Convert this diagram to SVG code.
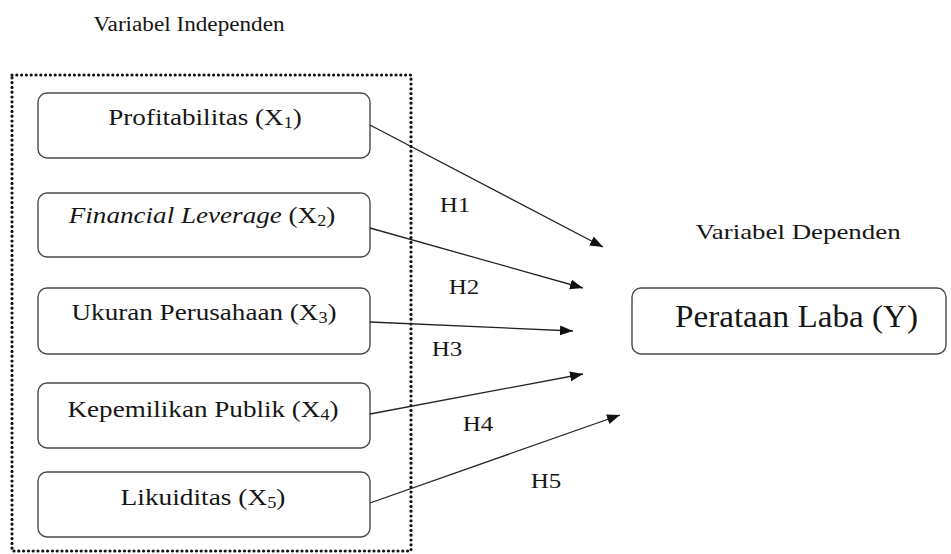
<svg xmlns="http://www.w3.org/2000/svg" width="951" height="554" viewBox="0 0 951 554">
<style>
text{font-family:"Liberation Serif","Times New Roman",serif;fill:#161616;text-anchor:middle}
.box{fill:#fff;stroke:#4a4a4a;stroke-width:1.4}
.lbl{font-size:24px}
.sub{font-size:16px}
.h{font-size:20px}
.conn{stroke:#222;stroke-width:1.3;fill:none;marker-end:url(#ah)}
.dots{fill:none;stroke:#111;stroke-width:3.2;stroke-linecap:round;stroke-dasharray:0 4.8}
</style>
<defs>
<marker id="ah" markerUnits="userSpaceOnUse" markerWidth="14" markerHeight="12" refX="13" refY="5" orient="auto">
<path d="M0,0 L13,5 L0,10 Z" fill="#111"/>
</marker>
</defs>
<rect width="951" height="554" fill="#fff"/>
<text transform="translate(189,31) scale(1.16,1)" font-size="20">Variabel Independen</text>
<text transform="translate(798,239) scale(1.28,1)" font-size="21">Variabel Dependen</text>
<g id="group-independen">
<path class="dots" d="M12,75 H411 V551 H12 Z"/>
</g>
<g id="x1">
<rect class="box" x="38" y="93" width="332" height="65" rx="9"/>
<text class="lbl" transform="translate(205,125) scale(1.13,1)">Profitabilitas (X<tspan class="sub" dy="3">1</tspan><tspan dy="-3">)</tspan></text>
</g>
<g id="x2">
<rect class="box" x="38" y="193" width="332" height="64" rx="9"/>
<text class="lbl" transform="translate(202,223) scale(1.13,1)"><tspan font-style="italic">Financial Leverage</tspan> (X<tspan class="sub" dy="3">2</tspan><tspan dy="-3">)</tspan></text>
</g>
<g id="x3">
<rect class="box" x="38" y="288" width="332" height="66" rx="9"/>
<text class="lbl" transform="translate(204,320) scale(1.13,1)">Ukuran Perusahaan (X<tspan class="sub" dy="3">3</tspan><tspan dy="-3">)</tspan></text>
</g>
<g id="x4">
<rect class="box" x="38" y="383" width="332" height="65" rx="9"/>
<text class="lbl" transform="translate(203,417) scale(1.13,1)">Kepemilikan Publik (X<tspan class="sub" dy="3">4</tspan><tspan dy="-3">)</tspan></text>
</g>
<g id="x5">
<rect class="box" x="38" y="472" width="332" height="65" rx="9"/>
<text class="lbl" transform="translate(203,505) scale(1.14,1)">Likuiditas (X<tspan class="sub" dy="3">5</tspan><tspan dy="-3">)</tspan></text>
</g>
<g id="y">
<rect class="box" x="632" y="288" width="314" height="66" rx="9"/>
<text transform="translate(796.5,327) scale(1.07,1)" font-size="31">Perataan Laba (Y)</text>
</g>
<g id="connectors">
<line class="conn" x1="370" y1="125" x2="603" y2="247"/>
<line class="conn" x1="370" y1="228" x2="583" y2="288"/>
<line class="conn" x1="370" y1="322" x2="573" y2="331"/>
<line class="conn" x1="370" y1="414" x2="583" y2="374"/>
<line class="conn" x1="370" y1="503" x2="620" y2="415"/>
<text class="h" transform="translate(455,212) scale(1.25,1)">H1</text>
<text class="h" transform="translate(464,294) scale(1.25,1)">H2</text>
<text class="h" transform="translate(447,356) scale(1.25,1)">H3</text>
<text class="h" transform="translate(478,431) scale(1.25,1)">H4</text>
<text class="h" transform="translate(546,488) scale(1.25,1)">H5</text>
</g>
</svg>
